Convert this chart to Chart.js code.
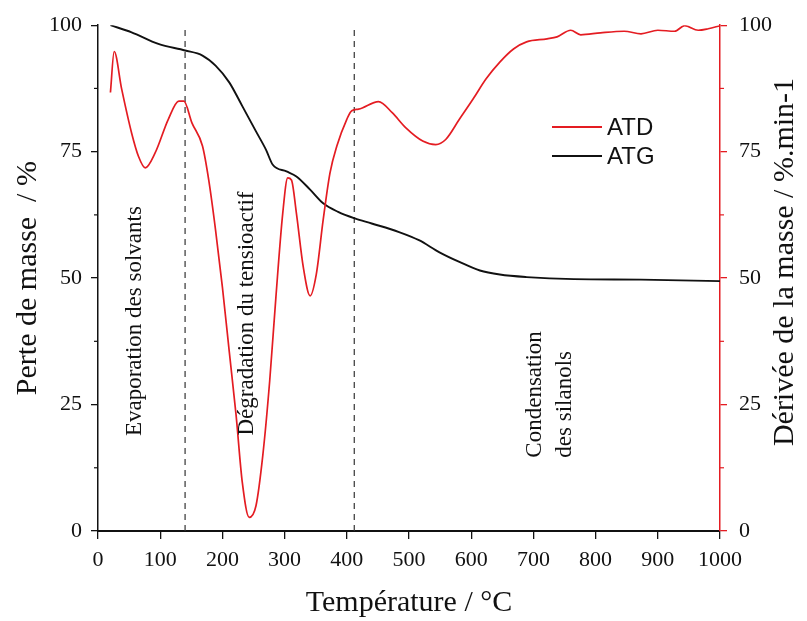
<!DOCTYPE html>
<html>
<head>
<meta charset="utf-8">
<script src="https://cdn.jsdelivr.net/npm/chart.js@4.4.1/dist/chart.umd.min.js"></script>
<style>
  html, body { margin: 0; padding: 0; background: #fff; }
</style>
</head>
<body>
<canvas id="chart" width="807" height="621"></canvas>
<script>
// ATG : perte de masse (axe gauche)
const atgTemp = [20, 54, 97, 140, 168, 189, 211, 232, 254, 270, 281, 303, 319, 341, 362, 386, 413, 440, 484, 516, 549, 581, 614, 646, 689, 765, 873, 1000];
const atgMass = [100, 98.6, 96.3, 95, 94, 92, 88.7, 84, 79, 75.4, 72.4, 71.1, 70.1, 67.5, 64.8, 63.1, 61.8, 60.8, 59.1, 57.5, 55.1, 53.2, 51.5, 50.7, 50.2, 49.8, 49.7, 49.4];

// ATD : dérivée de la masse (axe droit)
const atdTemp = [20, 26, 38, 54, 65, 76, 92, 113, 130, 138, 151, 168, 178, 189, 200, 211, 222, 232, 243, 254, 265, 276, 286, 297, 305, 311, 319, 330, 341, 351, 362, 373, 384, 400, 408, 419, 451, 473, 495, 522, 543, 559, 581, 603, 624, 646, 668, 689, 722, 738, 760, 776, 808, 846, 873, 900, 927, 943, 965, 981, 1000];
const atdDeriv = [86.7, 94.8, 87.4, 78.7, 74.1, 71.8, 74.8, 81.4, 85.0, 85.0, 80.7, 76.1, 69.4, 59.5, 48.2, 35.5, 22.9, 9.6, 2.7, 5.0, 15, 29.6, 46.2, 62.8, 69.8, 69.4, 62.8, 52.2, 46.5, 50.8, 61.5, 70.8, 76.1, 81.4, 83.1, 83.4, 84.9, 82.7, 79.7, 77.1, 76.4, 77.4, 81.4, 85.4, 89.4, 92.7, 95.3, 96.7, 97.3, 97.7, 99, 98.1, 98.5, 98.8, 98.3, 99, 98.8, 99.9, 99, 99.3, 99.9];

// limites des étapes (lignes pointillées)
const stageLimits = [140, 412];
const minorTickValues = [12.5, 37.5, 62.5, 87.5];

const RED = 'rgb(228, 28, 34)';
const INK = '#111';
const serif = '"Liberation Serif", "Times New Roman", serif';
const sans = '"Liberation Sans", Arial, sans-serif';

const toPoints = (xs, ys) => xs.map((x, i) => ({ x: x, y: ys[i] }));

// textes dans le graphique, en coordonnées des données
const stageNotes = [
  { lines: ['Evaporation des solvants'], x: 59, y: 41.5, align: 'center' },
  { lines: ['Dégradation du tensioactif'], x: 240, y: 43, align: 'center' },
  { lines: ['Condensation', 'des silanols'], x: 702, y: 14.5, align: 'left', gap: 49 }
];

const overlay = {
  id: 'overlay',
  afterDraw(chart) {
    const { ctx, scales } = chart;
    const { x, y, y1 } = scales;
    ctx.save();

    // petites graduations
    ctx.lineWidth = 1.2;
    minorTickValues.forEach(v => {
      const py = y.getPixelForValue(v);
      ctx.strokeStyle = INK;
      ctx.beginPath(); ctx.moveTo(y.right - 4, py); ctx.lineTo(y.right, py); ctx.stroke();
      ctx.strokeStyle = RED;
      ctx.beginPath(); ctx.moveTo(y1.left, py); ctx.lineTo(y1.left + 4, py); ctx.stroke();
    });

    // titre de l'axe droit (lu de bas en haut)
    ctx.fillStyle = INK;
    ctx.font = '30px ' + serif;
    ctx.textAlign = 'center';
    ctx.textBaseline = 'middle';
    ctx.save();
    ctx.translate(785, 262);
    ctx.rotate(-Math.PI / 2);
    ctx.fillText('Dérivée de la masse / %.min-1', 0, 0);
    ctx.restore();

    // annotations des étapes
    ctx.font = '23px ' + serif;
    stageNotes.forEach(n => {
      const px = x.getPixelForValue(n.x);
      const py = y.getPixelForValue(n.y);
      n.lines.forEach((line, i) => {
        ctx.save();
        ctx.translate(px + i * (n.gap || 0) * x.width / 1000, py);
        ctx.rotate(-Math.PI / 2);
        ctx.textAlign = n.align;
        ctx.fillText(line, 0, 0);
        ctx.restore();
      });
    });

    // légende
    ctx.font = '24px ' + sans;
    ctx.textAlign = 'left';
    chart.data.datasets.slice(0, 2).forEach((ds, i) => {
      const ly = 127 + i * 29;
      ctx.strokeStyle = ds.borderColor;
      ctx.lineWidth = 1.8;
      ctx.beginPath(); ctx.moveTo(552, ly); ctx.lineTo(602, ly); ctx.stroke();
      ctx.fillStyle = INK;
      ctx.fillText(ds.label, 607, ly + 1);
    });

    ctx.restore();
  }
};

new Chart(document.getElementById('chart'), {
  type: 'line',
  data: {
    datasets: [
      {
        label: 'ATD',
        data: toPoints(atdTemp, atdDeriv),
        yAxisID: 'y1',
        borderColor: RED,
        borderWidth: 1.7,
        pointRadius: 0,
        cubicInterpolationMode: 'monotone'
      },
      {
        label: 'ATG',
        data: toPoints(atgTemp, atgMass),
        yAxisID: 'y',
        borderColor: INK,
        borderWidth: 1.9,
        pointRadius: 0,
        cubicInterpolationMode: 'monotone'
      },
      ...stageLimits.map(t => ({
        label: '',
        data: [{ x: t, y: 0 }, { x: t, y: 100 }],
        yAxisID: 'y',
        borderColor: '#333',
        borderWidth: 1.2,
        borderDash: [6, 5],
        pointRadius: 0
      }))
    ]
  },
  options: {
    responsive: false,
    animation: false,
    layout: { padding: { top: 23, right: 0, bottom: 0, left: 0 } },
    plugins: {
      legend: { display: false },
      tooltip: { enabled: false }
    },
    scales: {
      x: {
        type: 'linear',
        min: 0,
        max: 1000,
        afterFit: s => { s.height = 90; },
        ticks: { stepSize: 100, color: INK, font: { family: serif, size: 22 }, padding: 8, maxRotation: 0, autoSkip: false, callback: v => String(v) },
        grid: { drawOnChartArea: false, tickLength: 8, color: INK, lineWidth: 1.3 },
        border: { color: INK, width: 2 },
        title: { display: true, text: 'Température / °C', color: INK, font: { family: serif, size: 30 }, padding: { top: 0, bottom: 0 } }
      },
      y: {
        position: 'left',
        min: 0,
        max: 100,
        afterFit: s => { s.width = 98; },
        ticks: { stepSize: 25, color: INK, font: { family: serif, size: 22 }, padding: 9 },
        grid: { drawOnChartArea: false, tickLength: 7, color: INK, lineWidth: 1.3 },
        border: { color: INK, width: 1.5 },
        title: { display: true, text: 'Perte de masse  / %', color: INK, font: { family: serif, size: 30 }, padding: { top: 10, bottom: 0 } }
      },
      y1: {
        position: 'right',
        min: 0,
        max: 100,
        afterFit: s => { s.width = 87; },
        ticks: { stepSize: 25, color: INK, font: { family: serif, size: 22 }, padding: 12 },
        grid: { drawOnChartArea: false, tickLength: 7, color: RED, lineWidth: 1.3 },
        border: { color: RED, width: 1.5 }
      }
    }
  },
  plugins: [overlay]
});
</script>
</body>
</html>
